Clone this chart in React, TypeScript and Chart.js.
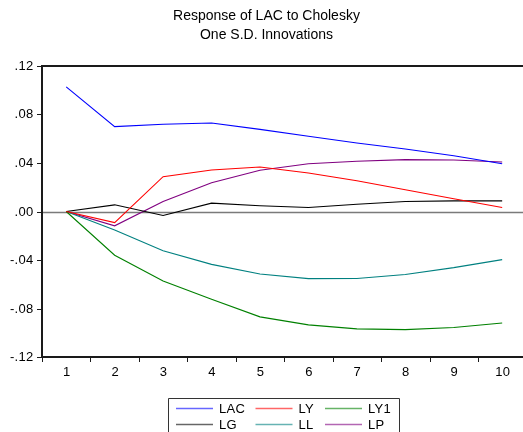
import React, { useEffect, useRef } from "react";
import { Chart, registerables } from "chart.js";

Chart.register(...registerables);

const periods = [1, 2, 3, 4, 5, 6, 7, 8, 9, 10];
const xTickLabels = ["1", "2", "3", "4", "5", "6", "7", "8", "9", "10"];

const LAC = [0.1028, 0.0700, 0.0719, 0.0730, 0.0677, 0.0620, 0.0565, 0.0515, 0.0460, 0.0394];
const LY = [0.0, -0.0091, 0.0287, 0.0342, 0.0367, 0.0317, 0.0254, 0.0179, 0.0105, 0.0033];
const LY1 = [0.0, -0.0361, -0.0574, -0.0723, -0.0869, -0.0935, -0.0968, -0.0974, -0.0957, -0.0919];
const LG = [0.0, 0.0055, -0.0033, 0.0069, 0.0047, 0.0033, 0.0060, 0.0083, 0.0088, 0.0088];
const LL = [0.0, -0.0152, -0.0323, -0.0436, -0.0516, -0.0554, -0.0552, -0.0519, -0.0463, -0.0397];
const LP = [0.0, -0.0118, 0.0083, 0.0237, 0.0340, 0.0394, 0.0414, 0.0428, 0.0425, 0.0408];

const seriesNames = ["LAC", "LY", "LY1", "LG", "LL", "LP"];
const seriesValues = [LAC, LY, LY1, LG, LL, LP];
const seriesColors = ["#0000ff", "#ff0000", "#008000", "#000000", "#008080", "#800080"];
const legendOrder = ["LAC", "LY", "LY1", "LG", "LL", "LP"];

const yTicks = [0.12, 0.08, 0.04, 0, -0.04, -0.08, -0.12];
const yTickLabels = [".12", ".08", ".04", ".00", "-.04", "-.08", "-.12"];

const titleLines = ["Response of LAC to Cholesky", "One S.D. Innovations"];

const FONT = "Liberation Sans, Arial, sans-serif";

const framePlugin = {
  id: "eviewsFrame",
  beforeDatasetsDraw(chart: any) {
    const ctx = chart.ctx as any;
    const { left, top, right, bottom } = chart.chartArea;
    const xs = chart.scales.x;
    const ys = chart.scales.y;
    ctx.save();

    // zero line
    const y0 = Math.round(ys.getPixelForValue(0)) + 0.5;
    ctx.strokeStyle = "#7a7a7a";
    ctx.lineWidth = 1.5;
    ctx.beginPath();
    ctx.moveTo(left, y0);
    ctx.lineTo(right, y0);
    ctx.stroke();

    // frame lines
    ctx.strokeStyle = "#1a1a1a";
    ctx.lineWidth = 2;
    ctx.beginPath();
    ctx.moveTo(left, top);
    ctx.lineTo(right, top);
    ctx.moveTo(left, top - 1);
    ctx.lineTo(left, bottom);
    ctx.lineTo(right, bottom);
    ctx.stroke();

    // y ticks
    ctx.lineWidth = 1;
    ctx.fillStyle = "#000";
    ctx.font = "13px " + FONT;
    ctx.letterSpacing = "0.3px";
    ctx.textAlign = "right";
    ctx.textBaseline = "middle";
    yTicks.forEach((v, i) => {
      const py = Math.round(ys.getPixelForValue(v)) + 0.5;
      ctx.beginPath();
      ctx.moveTo(left - 5, py);
      ctx.lineTo(left, py);
      ctx.stroke();
      ctx.fillText(yTickLabels[i], left - 8.5, py);
    });

    // x ticks between periods
    for (let i = 0; i <= periods.length; i++) {
      const px = Math.round(xs.getPixelForValue(periods[0] - 0.5 + i)) + 0.5;
      if (px < left - 0.5 || px > right + 0.5) continue;
      ctx.beginPath();
      ctx.moveTo(px, bottom);
      ctx.lineTo(px, bottom + 5);
      ctx.stroke();
    }
    ctx.textAlign = "center";
    periods.forEach((p, i) => {
      ctx.fillText(xTickLabels[i], xs.getPixelForValue(p) + 0.5, bottom + 15);
    });

    // title
    ctx.letterSpacing = "0px";
    ctx.font = "14px " + FONT;
    ctx.textBaseline = "middle";
    titleLines.forEach((t, i) => {
      ctx.fillText(t, 266.5, 16 + i * 19.5);
    });

    // legend
    const bx = 168.5, by = 398.5;
    ctx.strokeStyle = "#333";
    ctx.lineWidth = 1;
    ctx.beginPath();
    ctx.moveTo(bx, 440);
    ctx.lineTo(bx, by);
    ctx.lineTo(399.5, by);
    ctx.lineTo(399.5, 440);
    ctx.stroke();
    const colX = [176, 255.5, 325];
    const rowY = [408.5, 424.5];
    ctx.font = "13px " + FONT;
    ctx.letterSpacing = "0.3px";
    ctx.textAlign = "left";
    legendOrder.forEach((name, k) => {
      const idx = seriesNames.indexOf(name);
      const cx = colX[k % 3];
      const ry = rowY[Math.floor(k / 3)];
      ctx.globalAlpha = 0.6;
      ctx.strokeStyle = seriesColors[idx];
      ctx.lineWidth = 1.5;
      ctx.beginPath();
      ctx.moveTo(cx, ry);
      ctx.lineTo(cx + 37, ry);
      ctx.stroke();
      ctx.globalAlpha = 1;
      ctx.fillStyle = "#000";
      ctx.fillText(name, cx + 43, ry + 0.5);
    });

    ctx.restore();
  },
};

export default function App() {
  const canvasRef = useRef<HTMLCanvasElement | null>(null);

  useEffect(() => {
    const canvas = canvasRef.current;
    if (!canvas) return;
    const chart = new Chart(canvas, {
      type: "line",
      data: {
        datasets: seriesNames.map((name, s) => ({
          label: name,
          data: periods.map((p, i) => ({ x: p, y: seriesValues[s][i] })),
          borderColor: seriesColors[s],
          backgroundColor: seriesColors[s],
          borderWidth: 1.1,
          pointRadius: 0,
          tension: 0,
          fill: false,
        })),
      },
      options: {
        responsive: false,
        animation: false,
        layout: { padding: { left: 42, top: 66, right: 0, bottom: 75 } },
        plugins: {
          legend: { display: false },
          tooltip: { enabled: false },
          title: { display: false },
        },
        scales: {
          x: { type: "linear", display: false, min: 0.5, max: 10.43 },
          y: { type: "linear", display: false, min: -0.12, max: 0.12 },
        },
      },
      plugins: [framePlugin],
    });
    return () => chart.destroy();
  }, []);

  return (
    <div style={{ position: "absolute", left: 0, top: 0, width: 523, height: 432, background: "#fff" }}>
      <canvas ref={canvasRef} width={523} height={432} style={{ display: "block" }} />
    </div>
  );
}
